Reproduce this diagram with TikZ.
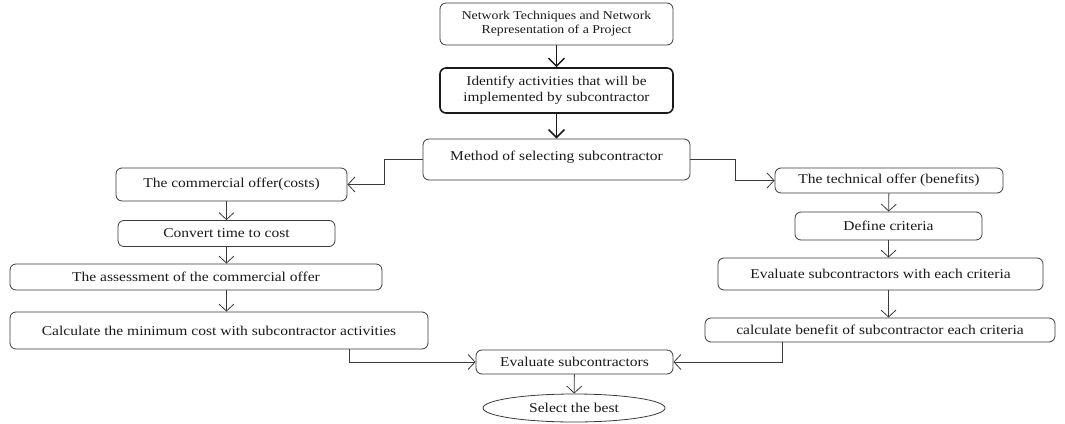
\documentclass[tikz,border=0pt]{standalone}
\usepackage{fontspec}
\setmainfont{Liberation Serif}[FakeStretch=1.15]
\usepackage{tikz}
\usetikzlibrary{arrows.meta,shapes.geometric}
\definecolor{ink}{HTML}{1A1A1A}
\definecolor{edge}{HTML}{3A3A3A}

\begin{document}
\begin{tikzpicture}[
  x=1pt,y=-1pt,
  font=\fontsize{13.5}{16}\selectfont,
  box/.style={draw=edge,line width=0.8pt,rounded corners=6pt,fill=white,
              inner sep=0pt,align=center,text=ink},
  ovalbox/.style={draw=edge,line width=0.8pt,ellipse,inner sep=0pt,text=ink},
  arrow/.style={-{Straight Barb[length=7pt,width=15pt]},draw=edge,line width=0.8pt},
  boldarrow/.style={-{Straight Barb[length=8pt,width=16pt]},draw=ink,line width=1.5pt},
]
\useasboundingbox (0,0) rectangle (1065,423);

% main column
\node[box,minimum width=233,minimum height=42,font=\fontsize{12}{14}\selectfont] (net) at (556.5,24)
  {Network Techniques and Network\\Representation of a Project};
\node[box,line width=1.6pt,draw=ink,minimum width=233,minimum height=45,font=\fontsize{13.3}{16}\selectfont] (ident) at (556.5,90.5)
  {Identify activities that will be\\implemented by subcontractor};
\node[box,minimum width=267,text height=21,text depth=20] (method) at (556.5,159.5)
  {Method of selecting subcontractor};

% commercial branch
\node[box,minimum width=231,minimum height=33] (comm) at (231.5,184.5) {The commercial offer(costs)};
\node[box,minimum width=217,minimum height=26] (conv) at (226.5,233.5) {Convert time to cost};
\node[box,minimum width=372,minimum height=26] (assess) at (196,277) {The assessment of the commercial offer};
\node[box,minimum width=418,minimum height=37] (calcmin) at (219,330.5) {Calculate the minimum cost with subcontractor activities};

% technical branch
\node[box,minimum width=228,minimum height=25] (tech) at (889,180.5) {The technical offer (benefits)};
\node[box,minimum width=187,minimum height=28] (crit) at (888.5,226) {Define criteria};
\node[box,minimum width=325,minimum height=32] (evalcrit) at (880.5,274) {Evaluate subcontractors with each criteria};
\node[box,minimum width=350,minimum height=24] (benefit) at (880,330) {calculate benefit of subcontractor each criteria};

% result
\node[box,minimum width=197,minimum height=24] (evalsub) at (574.5,362) {Evaluate subcontractors};
\node[ovalbox,minimum width=182,minimum height=28] (best) at (574,408) {Select the best};

\draw[boldarrow] (net) -- (ident);
\draw[boldarrow] (ident) -- (method);
\draw[arrow] (method.west) -- ++(-38,0) |- (comm.east);
\draw[arrow] (method.east) -- ++(45,0) |- (tech.west);

\draw[arrow] (conv.north |- comm.south) -- (conv.north);
\draw[arrow] (conv.south) -- (conv.south |- assess.north);
\draw[arrow] (conv.south |- assess.south) -- (conv.south |- calcmin.north);

\draw[arrow] (tech) -- (crit);
\draw[arrow] (crit.south) -- (crit.south |- evalcrit.north);
\draw[arrow] (crit.south |- evalcrit.south) -- (crit.south |- benefit.north);

\draw[arrow] ([xshift=130pt]calcmin.south) |- (evalsub.west);
\draw[arrow] ([xshift=-98pt]benefit.south) |- (evalsub.east);
\draw[arrow] (evalsub) -- (best);
\end{tikzpicture}
\end{document}
